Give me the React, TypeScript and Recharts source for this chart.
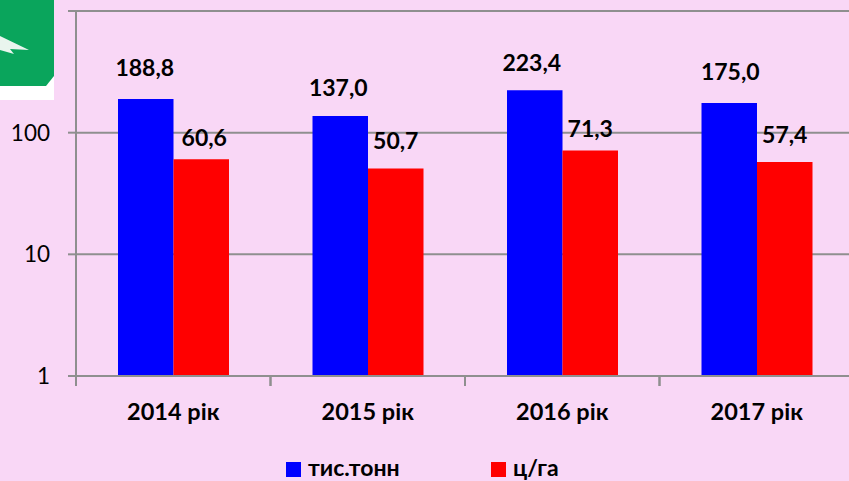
import { Bar, BarChart, CartesianGrid, Legend, XAxis, YAxis } from 'recharts';

const years = ['2014 рік', '2015 рік', '2016 рік', '2017 рік'];
const thousandTons = [188.8, 137.0, 223.4, 175.0];
const centnersPerHa = [60.6, 50.7, 71.3, 57.4];
const yTicks = [1, 10, 100, 1000];

const BG = '#f9d7f6';
const AXIS = '#8f8f8f';
const FONT = 'Lato, Carlito, sans-serif';
const CATEGORY_STEP = 194.5;

// labels were hand placed in the original, so each one gets its own nudge
const tonsNudge = [[-1, 32], [-2, 29], [-3, 28], [1, 32]];
const yieldNudge = [[3, 22], [0, 29], [0, 23], [0, 28]];

const data = years.map((year, i) => ({
  year,
  tons: thousandTons[i],
  yield: centnersPerHa[i],
}));

const fmt = (v: number) => v.toFixed(1).replace('.', ',');

function makeLabel(nudge: number[][]) {
  return function BarLabel(props: any) {
    const { x, y, width, value, index } = props;
    const [dx, lift] = nudge[index];
    return (
      <text
        x={x + width / 2 + dx}
        y={y - lift}
        textAnchor="middle"
        dominantBaseline="central"
        fontFamily={FONT}
        fontSize={23}
        fontWeight={700}
        fill="#000"
      >
        {fmt(value)}
      </text>
    );
  };
}

// ticks sit between the categories, not under them
function YearTick(props: any) {
  const { x, y, payload } = props;
  const top = y - 7;
  return (
    <g>
      <line x1={x - CATEGORY_STEP / 2} x2={x - CATEGORY_STEP / 2} y1={top} y2={top + 9} stroke={AXIS} strokeWidth={2} />
      <line x1={x + CATEGORY_STEP / 2} x2={x + CATEGORY_STEP / 2} y1={top} y2={top + 9} stroke={AXIS} strokeWidth={2} />
      <text
        x={x}
        y={y + 27}
        textAnchor="middle"
        dominantBaseline="central"
        fontFamily={FONT}
        fontSize={23.5}
        fontWeight={700}
        fill="#000"
      >
        {payload.value}
      </text>
    </g>
  );
}

function LegendRow() {
  const item = (color: string, text: string, width: number) => (
    <div style={{ display: 'flex', alignItems: 'center', width }}>
      <span style={{ width: 15, height: 15, background: color, marginRight: 7 }} />
      <span style={{ display: 'block', position: 'relative', top: -2, fontFamily: FONT, fontSize: 23, fontWeight: 700, color: '#000', lineHeight: '22px' }}>
        {text}
      </span>
    </div>
  );
  return (
    <div style={{ display: 'flex', position: 'absolute', left: 286, top: 458 }}>
      {item('#0000ff', 'тис.тонн', 205)}
      {item('#ff0000', 'ц/га', 80)}
    </div>
  );
}

function Logo() {
  return (
    <svg width={54} height={100} style={{ position: 'absolute', left: 0, top: 0 }}>
      <rect width={54} height={100} fill="#fff" />
      <path d="M0 0H54V76L46 86H0Z" fill="#0aa55c" />
      <path d="M0 36L29 50L10 49L14 54L0 50Z" fill="#e9f5ee" />
    </svg>
  );
}

export default function App() {
  return (
    <div style={{ position: 'absolute', left: 0, top: 0, width: 849, height: 481, overflow: 'hidden', background: BG }}>
      <BarChart
        width={900}
        height={481}
        data={data}
        barGap={0}
        barSize={55.5}
        margin={{ top: 11, right: 46, bottom: 0, left: 0 }}
      >
        <CartesianGrid vertical={false} stroke={AXIS} strokeWidth={2} />
        <XAxis
          dataKey="year"
          height={105}
          stroke={AXIS}
          strokeWidth={2}
          tickLine={false}
          interval={0}
          tick={<YearTick />}
        />
        <YAxis
          scale="log"
          domain={[1, 1000]}
          ticks={yTicks}
          width={76}
          stroke={AXIS}
          strokeWidth={2}
          tickSize={8}
          tickMargin={18}
          tickFormatter={(v: number) => (v === 1000 ? '' : String(v))}
          tick={{ fill: '#000', fontFamily: FONT, fontSize: 22.5 }}
        />
        <Legend content={() => null} />
        <Bar dataKey="tons" name="тис.тонн" fill="#0000ff" isAnimationActive={false} label={makeLabel(tonsNudge)} />
        <Bar dataKey="yield" name="ц/га" fill="#ff0000" isAnimationActive={false} label={makeLabel(yieldNudge)} />
      </BarChart>
      <Logo />
      <LegendRow />
    </div>
  );
}
